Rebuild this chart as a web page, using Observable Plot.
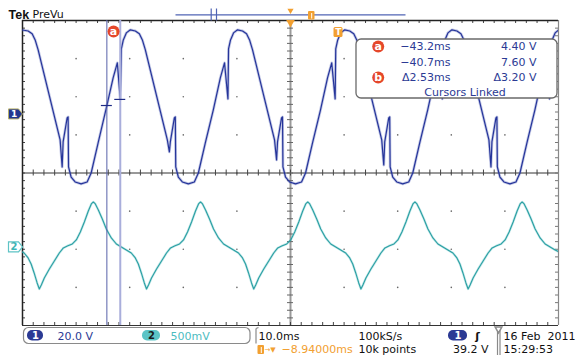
<!DOCTYPE html>
<html><head><meta charset="utf-8">
<script src="https://cdn.jsdelivr.net/npm/d3@7"></script>
<script src="https://cdn.jsdelivr.net/npm/@observablehq/plot@0.6"></script>
<style>html,body{margin:0;padding:0;background:#fff;}svg{display:block;}</style>
</head><body><div id="chart"></div>
<script>
// ---------- data ----------
const timeDomain = [-58.94, 41.06];   // ms (10 ms/div, centre -8.94 ms)
const msPerDiv = 10;
const ch1Scale = 20;      // V/div
const ch2Scale = 500;     // mV/div
const ch1Position = 1.55; // div
const ch2Position = -1.94;// div
const triggerTime = 0, triggerLevel = 39.2;

// channel 1 [ms, V]
const ch1Trace = [
 [-58.94,44.0],[-57.89,43.5],[-57.14,42.0],[-56.58,38.8],[-56.02,33.6],[-53.97,10.0],[-51.92,-13.6],[-51.54,-27.8],[-51.36,-14.7],[-50.61,-2.1],[-50.43,-1.6],[-50.35,-27.8],[-49.87,-33.1],[-49.12,-35.7],[-48.00,-36.7],[-46.88,-35.7],[-46.13,-31.0],[-44.83,-15.2],[-43.20,4.4],[-42.03,18.9],
 [-41.25,26.8],[-40.70,7.6],[-40.50,34.1],[-40.13,38.8],[-39.57,42.5],[-38.82,44.1],[-37.89,43.5],[-37.14,42.0],[-36.58,38.8],[-36.02,33.6],[-33.97,10.0],[-31.92,-13.6],[-31.54,-19.9],[-31.36,-14.7],[-30.61,-2.1],[-30.43,-1.6],[-30.35,-27.8],[-29.87,-33.1],[-29.12,-35.7],[-28.00,-36.7],[-26.88,-35.7],[-26.13,-31.0],[-24.83,-15.2],[-23.34,2.1],[-22.03,18.9],
 [-21.25,26.8],[-20.61,7.9],[-20.50,34.1],[-20.13,38.8],[-19.57,42.5],[-18.82,44.1],[-17.89,43.5],[-17.14,42.0],[-16.58,38.8],[-16.02,33.6],[-13.97,10.0],[-11.92,-13.6],[-11.54,-24.1],[-11.36,-14.7],[-10.61,-2.1],[-10.43,-1.6],[-10.35,-27.8],[-9.87,-33.1],[-9.12,-35.7],[-8.00,-36.7],[-6.88,-35.7],[-6.13,-31.0],[-4.83,-15.2],[-3.34,2.1],[-2.03,18.9],
 [-1.25,26.8],[-0.61,7.9],[-0.50,34.1],[-0.13,38.8],[0.43,42.5],[1.18,44.1],[2.11,43.5],[2.86,42.0],[3.42,38.8],[3.98,33.6],[6.03,10.0],[8.08,-13.6],[8.46,-26.8],[8.64,-14.7],[9.39,-2.1],[9.57,-1.6],[9.65,-27.8],[10.13,-33.1],[10.88,-35.7],[12.00,-36.7],[13.12,-35.7],[13.87,-31.0],[15.17,-15.2],[16.66,2.1],[17.97,18.9],
 [18.75,26.8],[19.39,7.9],[19.50,34.1],[19.87,38.8],[20.43,42.5],[21.18,44.1],[22.11,43.5],[22.86,42.0],[23.42,38.8],[23.98,33.6],[26.03,10.0],[28.08,-13.6],[28.46,-27.8],[28.64,-14.7],[29.39,-2.1],[29.57,-1.6],[29.65,-27.8],[30.13,-33.1],[30.88,-35.7],[32.00,-36.7],[33.12,-35.7],[33.87,-31.0],[35.17,-15.2],[36.66,2.1],[37.97,18.9],
 [38.75,26.8],[39.39,7.9],[39.50,34.1],[39.87,38.8],[40.43,42.5],[41.06,44.0]
];
// channel 2 [ms, mV]
const ch2Trace = [
 [-58.94,-66],[-58.64,-79],[-57.89,-144],[-57.33,-223],[-56.77,-341],[-56.21,-472],[-55.80,-551],
 [-55.43,-498],[-54.87,-407],[-53.93,-289],[-53.00,-184],[-52.07,-79],[-51.32,-13],[-50.58,13],[-49.64,39],[-48.90,92],[-48.15,197],[-47.40,328],[-46.66,472],[-46.10,564],[-45.73,590],[-45.35,564],[-44.79,485],[-44.05,367],[-43.30,236],[-42.37,118],[-41.43,39],[-40.50,0],[-39.57,-39],[-38.64,-79],[-37.89,-144],[-37.33,-223],[-36.77,-341],[-36.21,-472],[-35.80,-551],
 [-35.43,-498],[-34.87,-407],[-33.93,-289],[-33.00,-184],[-32.07,-79],[-31.32,-13],[-30.58,13],[-29.64,39],[-28.90,92],[-28.15,197],[-27.40,328],[-26.66,472],[-26.10,564],[-25.73,590],[-25.35,564],[-24.79,485],[-24.05,367],[-23.30,236],[-22.37,118],[-21.43,39],[-20.50,0],[-19.57,-39],[-18.64,-79],[-17.89,-144],[-17.33,-223],[-16.77,-341],[-16.21,-472],[-15.80,-551],
 [-15.43,-498],[-14.87,-407],[-13.93,-289],[-13.00,-184],[-12.07,-79],[-11.32,-13],[-10.58,13],[-9.64,39],[-8.90,92],[-8.15,197],[-7.40,328],[-6.66,472],[-6.10,564],[-5.73,590],[-5.35,564],[-4.79,485],[-4.05,367],[-3.30,236],[-2.37,118],[-1.43,39],[-0.50,0],[0.43,-39],[1.36,-79],[2.11,-144],[2.67,-223],[3.23,-341],[3.79,-472],[4.20,-551],
 [4.57,-498],[5.13,-407],[6.07,-289],[7.00,-184],[7.93,-79],[8.68,-13],[9.42,13],[10.36,39],[11.10,92],[11.85,197],[12.60,328],[13.34,472],[13.90,564],[14.27,590],[14.65,564],[15.21,485],[15.95,367],[16.70,236],[17.63,118],[18.57,39],[19.50,0],[20.43,-39],[21.36,-79],[22.11,-144],[22.67,-223],[23.23,-341],[23.79,-472],[24.20,-551],
 [24.57,-498],[25.13,-407],[26.07,-289],[27.00,-184],[27.93,-79],[28.68,-13],[29.42,13],[30.36,39],[31.10,92],[31.85,197],[32.60,328],[33.34,472],[33.90,564],[34.27,590],[34.65,564],[35.21,485],[35.95,367],[36.70,236],[37.63,118],[38.57,39],[39.50,0],[40.43,-39],[41.06,-62]
];
const cursorTimes = [-43.2, -40.7];
const cursorVolts = [4.40, 7.60];
const cursorTimeText = ["\u221243.2ms", "\u221240.7ms", "\u03942.53ms"];
const cursorVoltText = ["4.40 V", "7.60 V", "\u03943.20 V"];
const channelText = ["20.0 V", "500mV"];
const timebaseText = ["10.0ms", "100kS/s", "\u22128.94000ms", "10k points", "39.2 V"];
const dateText = ["16 Feb\u00a0\u00a02011", "15:29:53"];

// ---------- layout helpers ----------
const W = 576, H = 355, ML = 22, MR = 18, MT = 20, MB = 30;
const divX = (W - ML - MR) / 10, divY = (H - MT - MB) / 8;
const [t0, t1] = timeDomain;
const tc = (t0 + t1) / 2;
const px2t = px => t0 + (px - ML) / divX * msPerDiv;
const px2d = py => 4 - (py - MT) / divY;
const tpx = msPerDiv / divX, dpx = 1 / divY;
const FONT = "'DejaVu Sans', sans-serif";

const BLUE = "#2b3a94", TEAL = "#3fb4b6", ORANGE = "#f2a031", RED = "#e5472a";

function label(text, px, py, o = {}) {
  return Plot.text([text], {x: () => px2t(px), y: () => px2d(py), text: d => d,
    textAnchor: o.anchor || "start", fill: o.fill || "#111", fontSize: o.size || 11,
    fontWeight: o.weight || "normal", fontFamily: o.family || FONT});
}
function box(px1, py1, px2, py2, o = {}) {
  return Plot.rect([0], {x1: () => px2t(px1), x2: () => px2t(px2), y1: () => px2d(py1), y2: () => px2d(py2),
    fill: o.fill || "none", stroke: o.stroke || "none", strokeWidth: o.sw || 1, rx: o.rx || 0});
}
function seg(px1, py1, px2, py2, o = {}) {
  return Plot.link([0], {x1: () => px2t(px1), y1: () => px2d(py1), x2: () => px2t(px2), y2: () => px2d(py2),
    stroke: o.stroke || "#888", strokeWidth: o.sw || 1});
}
const pentagon = {draw(ctx) { ctx.moveTo(-7,-5); ctx.lineTo(3,-5); ctx.lineTo(7,0); ctx.lineTo(3,5); ctx.lineTo(-7,5); ctx.closePath(); }};

const xMinor = d3.range(51).map(k => t0 + k * msPerDiv / 5);
const yMinor = d3.range(41).map(k => -4 + k / 5);
const xMajor = d3.range(1, 10).map(k => t0 + k * msPerDiv);
const gridDots = xMajor.flatMap(x => d3.range(-3, 4).map(y => ({x, y})));

const ch1 = ch1Trace.map(([t, v]) => ({t, d: v / ch1Scale + ch1Position}));
const ch2 = ch2Trace.map(([t, v]) => ({t, d: v / ch2Scale + ch2Position}));
const cursorPts = cursorTimes.map((t, i) => ({t, d: cursorVolts[i] / ch1Scale + ch1Position}));

const tk = 3;
const plot = Plot.plot({
  width: W, height: H, marginLeft: ML, marginRight: MR, marginTop: MT, marginBottom: MB,
  x: {domain: timeDomain, axis: null},
  y: {domain: [-4, 4], axis: null},
  style: {background: "#fff", fontFamily: FONT},
  marks: [
    // graticule
    Plot.dot(gridDots, {x: "x", y: "y", r: 0.8, fill: "#666"}),
    Plot.ruleY([0], {stroke: "#333", strokeWidth: 1}),
    Plot.ruleX([tc], {stroke: "#9a9a9a", strokeWidth: 2}),
    Plot.ruleX(xMinor, {x: d => d, y1: 4, y2: 4 - tk * dpx, stroke: "#444"}),
    Plot.ruleX(xMinor, {x: d => d, y1: -4, y2: -4 + tk * dpx, stroke: "#444"}),
    Plot.ruleX(xMinor, {x: d => d, y1: -tk * dpx, y2: tk * dpx, stroke: "#444"}),
    Plot.ruleY(yMinor, {y: d => d, x1: t0, x2: t0 + tk * tpx, stroke: "#444"}),
    Plot.ruleY(yMinor, {y: d => d, x1: t1 - tk * tpx, x2: t1, stroke: "#777"}),
    Plot.ruleY(yMinor, {y: d => d, x1: tc - tk * tpx, x2: tc + tk * tpx, stroke: "#666"}),
    Plot.ruleY([4], {stroke: "#222", strokeWidth: 1.5}),
    Plot.ruleY([-4], {stroke: "#333", strokeWidth: 1.2}),
    Plot.ruleX([t0], {stroke: "#222", strokeWidth: 1.5}),
    Plot.ruleX([t1], {stroke: "#888", strokeWidth: 1.2}),
    // traces
    Plot.line(ch2, {x: "t", y: "d", stroke: TEAL, strokeWidth: 2.4, strokeOpacity: 0.3, clip: true}),
    Plot.line(ch2, {x: "t", y: "d", stroke: "#2a9fa3", strokeWidth: 1.1, clip: true}),
    Plot.line(ch1, {x: "t", y: "d", stroke: "#4050ad", strokeWidth: 2.8, strokeOpacity: 0.3, clip: true}),
    Plot.line(ch1, {x: "t", y: "d", stroke: "#25349a", strokeWidth: 1.2, clip: true}),
    // cursors
    Plot.ruleX([cursorTimes[0]], {stroke: "#5862aa", strokeWidth: 1}),
    Plot.ruleX([cursorTimes[1]], {stroke: "#a9aedb", strokeWidth: 2}),
    Plot.ruleY(cursorPts, {y: "d", x1: d => d.t - 5.5 * tpx, x2: d => d.t + 5.5 * tpx, stroke: "#1d2a85", strokeWidth: 1.2}),
    Plot.dot([0], {x: () => (cursorTimes[0] + cursorTimes[1]) / 2, y: () => px2d(31), r: 6, fill: RED}),
    Plot.text(["a"], {x: () => (cursorTimes[0] + cursorTimes[1]) / 2, y: () => px2d(30.5), text: d => d, fill: "#fff", fontWeight: "bold", fontSize: 11}),
    // trigger marker on trace
    box(333.5, 27, 342.5, 37, {fill: ORANGE, rx: 1.5}),
    Plot.text(["T"], {x: () => triggerTime, y: () => px2d(32), text: d => d, fill: "#fff", fontWeight: "bold", fontSize: 9}),
    Plot.dot([0], {x: () => tc, y: () => px2d(22), symbol: "triangle", r: 3.2, rotate: 180, fill: ORANGE}),
    // cursor readout box
    box(356, 39, 557, 98, {fill: "#fff", stroke: "#6a6a6a", sw: 1.3, rx: 5}),
    Plot.dot([0], {x: () => px2t(377.7), y: () => px2d(46), r: 6, fill: RED}),
    Plot.dot([0], {x: () => px2t(377.7), y: () => px2d(77), r: 6, fill: RED}),
    label("a", 377.7, 45.5, {anchor: "middle", fill: "#fff", weight: "bold"}),
    label("b", 377.7, 76.5, {anchor: "middle", fill: "#fff", weight: "bold"}),
    ...cursorTimeText.map((s, i) => label(s, 450, [46, 61.7, 77][i], {anchor: "end", fill: BLUE})),
    ...cursorVoltText.map((s, i) => label(s, 536, [46, 61.7, 77][i], {anchor: "end", fill: BLUE})),
    label("Cursors Linked", 464.5, 91.5, {anchor: "middle", fill: BLUE}),
    // channel markers
    Plot.dot([ch1Position], {x: () => px2t(15), y: d => d, symbol: pentagon, fill: "#23378f", stroke: "#b5ae6a", strokeWidth: 1}),
    Plot.text([ch1Position], {x: () => px2t(13.5), y: d => d, text: () => "1", fill: "#fff", fontWeight: "bold", fontSize: 9}),
    Plot.dot([ch2Position], {x: () => px2t(15), y: d => d, symbol: pentagon, fill: "#fff", stroke: "#5ec3c5", strokeWidth: 1.2}),
    Plot.text([ch2Position], {x: () => px2t(13.5), y: d => d, text: () => "2", fill: "#3fb4b6", fontWeight: "bold", fontSize: 10}),
    // header
    label("Tek", 8, 14, {weight: "bold", size: 12.5, family: "'Liberation Sans', Arial, sans-serif"}),
    label("PreVu", 32, 14, {size: 11}),
    seg(175, 14.3, 405, 14.3, {stroke: "#5064b4", sw: 1.3}),
    seg(210.7, 8, 210.7, 20, {stroke: "#5064b4", sw: 1.2}),
    seg(216, 8, 216, 20, {stroke: "#5064b4", sw: 1.2}),
    Plot.dot([0], {x: () => tc, y: () => px2d(10), symbol: "triangle", r: 2.3, rotate: 180, fill: ORANGE}),
    box(308, 11, 314.5, 19.5, {fill: ORANGE, rx: 1}),
    seg(311.2, 12.5, 311.2, 18, {stroke: "#fff", sw: 1}),
    // footer: channel box
    box(23.5, 327.5, 250, 343.5, {stroke: "#8a8a8a", sw: 1.2, rx: 5}),
    box(27, 330, 43, 340.5, {fill: "#2b3a94", rx: 5}),
    label("1", 35, 335.5, {anchor: "middle", fill: "#fff", weight: "bold", size: 10}),
    label(channelText[0], 57, 335.5, {fill: BLUE}),
    box(142, 330, 160, 340.5, {fill: "#5cc4c6", rx: 5}),
    label("2", 151, 335.5, {anchor: "middle", fill: "#1a1a1a", weight: "bold", size: 10}),
    label(channelText[1], 170, 335.5, {fill: "#4dbcbf"}),
    // footer: timebase
    seg(255.5, 328, 255.5, 343, {stroke: "#8a8a8a", sw: 1.2}),
    seg(255.5, 328, 258, 327, {stroke: "#8a8a8a", sw: 1.2}),
    label(timebaseText[0], 258, 335.5),
    label(timebaseText[1], 358, 335.5),
    box(448, 330, 467, 340.5, {fill: "#2b3a94", rx: 5}),
    label("1", 457.5, 335.5, {anchor: "middle", fill: "#fff", weight: "bold", size: 10}),
    label("\u0283", 477, 335.5, {anchor: "middle", weight: "bold"}),
    box(257.5, 345, 264, 354, {fill: ORANGE, rx: 1}),
    seg(260.8, 346.5, 260.8, 352.5, {stroke: "#fff", sw: 1}),
    label("\u2192\u25bc", 264, 349, {fill: ORANGE, size: 7}),
    label(timebaseText[2], 281, 349, {fill: ORANGE}),
    label(timebaseText[3], 358, 349),
    label(timebaseText[4], 488, 349, {anchor: "end"}),
    seg(497, 330, 497, 355, {stroke: "#8a8a8a", sw: 1.2}),
    seg(499.5, 330, 499.5, 355, {stroke: "#8a8a8a", sw: 1.2}),
    Plot.dot([0], {x: () => px2t(498), y: () => px2d(328.5), symbol: "triangle", r: 2.5, rotate: 180, fill: "#fff", stroke: "#8a8a8a"}),
    label(dateText[0], 503, 335.5),
    label(dateText[1], 503, 349)
  ]
});
document.getElementById("chart").appendChild(plot);
</script>
</body></html>
